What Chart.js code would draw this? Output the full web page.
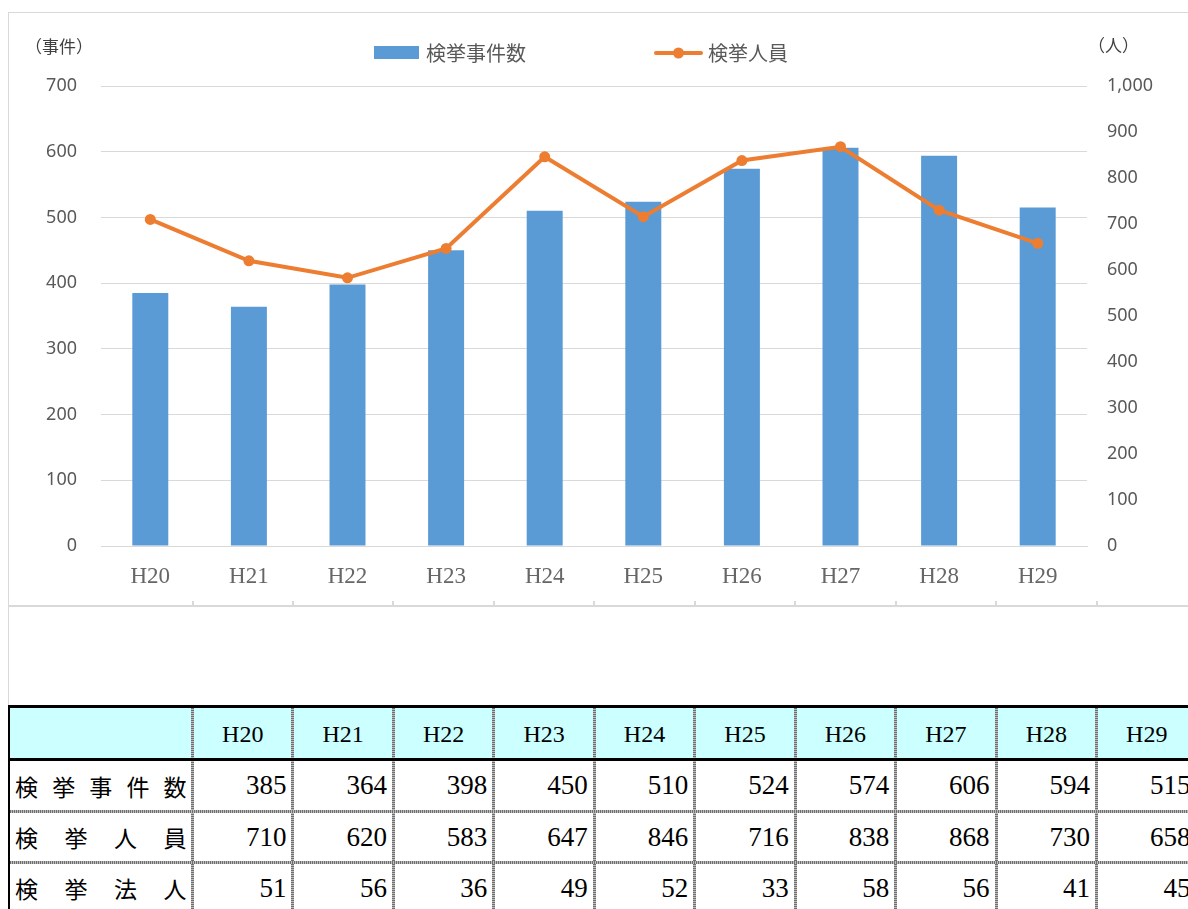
<!DOCTYPE html>
<html><head><meta charset="utf-8">
<script src="https://cdn.jsdelivr.net/npm/chart.js@4"></script>
<style>
html,body{margin:0;padding:0;background:#fff;}
body{width:1188px;height:909px;overflow:hidden;position:relative;}
#frameTop{position:absolute;left:8px;top:12px;width:1190px;height:1px;background:#d9d9d9;}
#frameLeft{position:absolute;left:8px;top:12px;width:1px;height:694px;background:#d9d9d9;}
#chartBox{position:absolute;left:9px;top:13px;width:1179px;height:590px;}
#baseLine{position:absolute;left:8px;top:605px;width:1190px;height:2px;background:#d9d9d9;}
.tick{position:absolute;top:601px;width:2px;height:5px;background:#d9d9d9;}
.hbg{position:absolute;background:#ccffff;}
.line{position:absolute;}
.cell{position:absolute;display:flex;align-items:center;color:#000;white-space:nowrap;}
.hdr{justify-content:center;font:24px "Liberation Serif",serif;}
.num{justify-content:flex-end;font:27px "Liberation Serif",serif;box-sizing:border-box;padding-right:5px;}
.lbl{justify-content:space-between;font:23px "Noto Sans CJK JP",sans-serif;box-sizing:border-box;padding:0 6px 0 6px;}
</style>
</head><body>
<div id="frameTop"></div>
<div id="frameLeft"></div>
<div id="chartBox"><canvas id="c" width="1179" height="590"></canvas></div>
<div id="baseLine"></div>
<div id="tbl"></div>
<script>
// ---- data ----
const categories = ['H20','H21','H22','H23','H24','H25','H26','H27','H28','H29'];
const caseCounts = [385,364,398,450,510,524,574,606,594,515];     // 検挙事件数
const personCounts = [710,620,583,647,846,716,838,868,730,658];   // 検挙人員
const corpCounts = [51,56,36,49,52,33,58,56,41,45];               // 検挙法人
const seriesNames = ['検挙事件数','検挙人員'];
const rowLabels = ['検挙事件数','検挙人員','検挙法人'];
const leftAxisTitle = '（事件）';
const rightAxisTitle = '（人）';
const leftMax = 700, rightMax = 1000, tickStep = 100;

const BLUE = '#5b9bd5', ORANGE = '#ed7d31';

const legendPlugin = {
  id: 'customLegend',
  afterDraw(chart) {
    const ctx = chart.ctx;
    const ds = chart.data.datasets;
    ctx.save();
    ctx.textBaseline = 'middle';
    ctx.font = '20px "Noto Sans CJK JP", sans-serif';
    ctx.fillStyle = ds[0].backgroundColor;
    ctx.fillRect(365, 33, 45, 13);
    ctx.fillStyle = '#595959';
    ctx.textAlign = 'left';
    ctx.fillText(ds[0].label, 417, 40);
    ctx.strokeStyle = ds[1].borderColor;
    ctx.lineWidth = 4;
    ctx.lineCap = 'round';
    ctx.beginPath(); ctx.moveTo(647, 40); ctx.lineTo(692, 40); ctx.stroke();
    ctx.fillStyle = ds[1].borderColor;
    ctx.beginPath(); ctx.arc(669.5, 40, 5.5, 0, Math.PI*2); ctx.fill();
    ctx.fillStyle = '#595959';
    ctx.fillText(ds[1].label, 699, 40);
    // axis titles
    ctx.font = '17px "Noto Sans CJK JP", sans-serif';
    ctx.fillStyle = '#404040';
    ctx.fillText(leftAxisTitle, 16, 34);
    ctx.fillText(rightAxisTitle, 1079, 33);
    ctx.restore();
  }
};

new Chart(document.getElementById('c'), {
  type: 'bar',
  data: {
    labels: categories,
    datasets: [
      { type:'bar', label: seriesNames[0], data: caseCounts, backgroundColor: BLUE, yAxisID:'y',
        categoryPercentage: 1, barPercentage: 0.365, order: 2 },
      { type:'line', label: seriesNames[1], data: personCounts, borderColor: ORANGE, backgroundColor: ORANGE,
        borderWidth: 4, pointRadius: 5.5, pointBackgroundColor: ORANGE, pointBorderWidth: 0,
        tension: 0, yAxisID:'y1', order: 1 }
    ]
  },
  options: {
    responsive: false,
    animation: false,
    layout: { padding: { top: 73, left: 0, right: 0, bottom: 0 } },
    plugins: { legend: { display: false }, tooltip: { enabled: false } },
    scales: {
      x: {
        grid: { display: false, drawTicks: false },
        border: { display: true, color: '#d9d9d9', width: 1 },
        ticks: { color: '#666666', font: { family: '"Liberation Serif", serif', size: 23 }, padding: 17 },
        afterFit(s) { s.height = 57; }
      },
      y: {
        position: 'left', min: 0, max: leftMax,
        grid: { color: '#d9d9d9', drawTicks: false },
        border: { display: false },
        ticks: { stepSize: tickStep, color: '#595959', font: { family: '"Noto Sans", sans-serif', size: 18 }, padding: 24 },
        afterFit(s) { s.width = 92; }
      },
      y1: {
        position: 'right', min: 0, max: rightMax,
        grid: { display: false, drawTicks: false },
        border: { display: false },
        ticks: { stepSize: tickStep, color: '#595959', font: { family: '"Noto Sans", sans-serif', size: 18 }, padding: 20,
                 callback: v => v.toLocaleString('en-US') },
        afterFit(s) { s.width = 101; }
      }
    }
  },
  plugins: [legendPlugin]
});

// ---- table ----
(function(){
  const tbl = document.getElementById('tbl');
  const colX = [8, 192.5];
  for (let i = 1; i <= categories.length; i++) colX.push(192.5 + i*100.45);
  const rowY = [706.5, 759.5, 811.5, 862.5, 914];
  const add = (cls, st, html) => { const d = document.createElement('div'); d.className = cls; Object.assign(d.style, st); if (html !== undefined) d.innerHTML = html; tbl.appendChild(d); return d; };
  // header background
  add('hbg', {left:'8px', top:rowY[0]+'px', width:(colX[colX.length-1]-8)+'px', height:(rowY[1]-rowY[0])+'px'});
  // cells
  const rows = [caseCounts, personCounts, corpCounts];
  for (let c = 1; c < colX.length; c++) {
    add('cell hdr', {left:colX[c]+'px', top:rowY[0]+'px', width:(colX[c+1]-colX[c])+'px', height:(rowY[1]-rowY[0]+2)+'px'}, categories[c-1]);
  }
  for (let r = 0; r < rows.length; r++) {
    const top = rowY[r+1], h = rowY[r+2]-rowY[r+1];
    add('cell lbl', {left:'9px', top:top+'px', width:(colX[1]-9)+'px', height:h+'px'},
        [...rowLabels[r]].map(ch => '<span>'+ch+'</span>').join(''));
    for (let c = 1; c < colX.length; c++) {
      add('cell num', {left:colX[c]+'px', top:top+'px', width:(colX[c+1]-colX[c]-1.5)+'px', height:h+'px'}, rows[r][c-1]);
    }
  }
  // grid lines
  for (let c = 1; c < colX.length; c++) {
    add('line', {left:(colX[c]-1.5)+'px', top:rowY[0]+'px', width:'3px', height:(909-rowY[0])+'px',
      background:'repeating-linear-gradient(0deg,#6e6e6e 0 1px,#bdbdbd 1px 2px)'});
  }
  for (let r = 2; r < 4; r++) {
    add('line', {left:'8px', top:(rowY[r]-1.5)+'px', width:'1190px', height:'3px',
      background:'repeating-linear-gradient(90deg,#6e6e6e 0 1px,#bdbdbd 1px 2px)'});
  }
  add('line', {left:'8px', top:(rowY[0]-1.5)+'px', width:'1190px', height:'3px', background:'#000'});
  add('line', {left:'8px', top:(rowY[1]-1.5)+'px', width:'1190px', height:'3px', background:'#000'});
  add('line', {left:'8px', top:rowY[0]+'px', width:'2px', height:(909-rowY[0])+'px', background:'#000'});
  // chart frame ticks at column boundaries
  for (let c = 1; c < colX.length - 1; c++) {
    add('tick', {left:(colX[c]-1)+'px'});
  }
})();
</script>
</body></html>
